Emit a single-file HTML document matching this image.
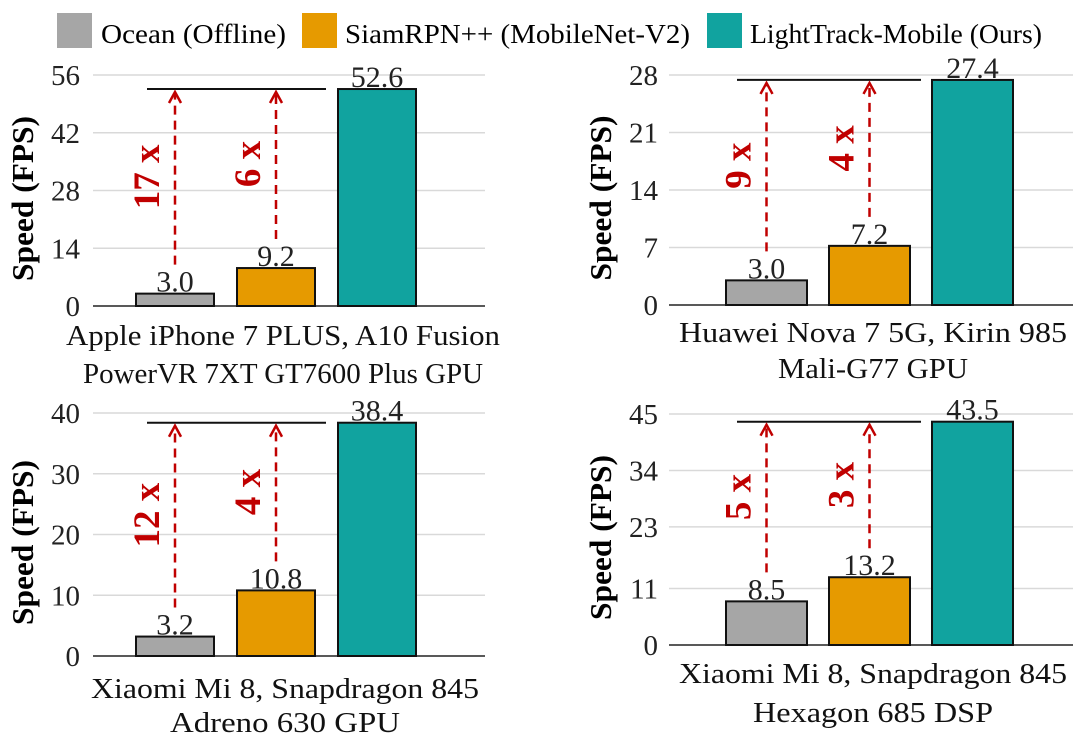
<!DOCTYPE html>
<html><head><meta charset="utf-8"><style>
html,body{margin:0;padding:0;background:#fff}
svg{display:block}
text{font-family:"Liberation Serif",serif}
</style></head><body>
<svg id="chart" width="1080" height="740" viewBox="0 0 1080 740" xmlns="http://www.w3.org/2000/svg">
<g>
<rect x="57" y="13" width="35" height="35" fill="#a6a6a6"/>
<text x="101" y="43" font-size="27" textLength="185" lengthAdjust="spacingAndGlyphs">Ocean (Offline)</text>
<rect x="302" y="13" width="35" height="35" fill="#e69a00"/>
<text x="345" y="43" font-size="27" textLength="345" lengthAdjust="spacingAndGlyphs">SiamRPN++ (MobileNet-V2)</text>
<rect x="707" y="13" width="35" height="35" fill="#11a39f"/>
<text x="750" y="43" font-size="27" textLength="292" lengthAdjust="spacingAndGlyphs">LightTrack-Mobile (Ours)</text>
</g>
</svg>
<script>
const devices = [["Apple iPhone 7 PLUS, A10 Fusion","PowerVR 7XT GT7600 Plus GPU"],["Huawei Nova 7 5G, Kirin 985","Mali-G77 GPU"],["Xiaomi Mi 8, Snapdragon 845","Adreno 630 GPU"],["Xiaomi Mi 8, Snapdragon 845","Hexagon 685 DSP"]];
const oceanFps = [3.0, 3.0, 3.2, 8.5];
const siamFps = [9.2, 7.2, 10.8, 13.2];
const lightFps = [52.6, 27.4, 38.4, 43.5];
const yMax = [56, 28, 40, 45];
const yTicks = [[0,14,28,42,56],[0,7,14,21,28],[0,10,20,30,40],[0,11,23,34,45]];
const speedupOcean = ["17 x","9 x","12 x","5 x"];
const speedupSiam = ["6 x","4 x","4 x","3 x"];

const layout = [
 {x0:93,x1:485,yTop:75,y0:306,bs:43,step:101,bw:78,tickR:80,titleX:22,lab:[335,373],labX:283,labW:[434,400]},
 {x0:669,x1:1073,yTop:75,y0:305,bs:57,step:103,bw:81,tickR:658,titleX:600,lab:[332,368],labX:873,labW:[388,190]},
 {x0:93,x1:485,yTop:413,y0:656,bs:43,step:101,bw:78,tickR:80,titleX:22,lab:[688,722],labX:285,labW:[388,230]},
 {x0:669,x1:1073,yTop:414,y0:645,bs:57,step:103,bw:81,tickR:658,titleX:600,lab:[673,712],labX:873,labW:[388,240]}
];
const colors = ["#a6a6a6","#e69a00","#11a39f"];
const NS="http://www.w3.org/2000/svg";
const svg=document.getElementById('chart');
function mk(tag,attrs,parent,txt){const e=document.createElementNS(NS,tag);for(const k in attrs)e.setAttribute(k,attrs[k]);if(txt!==undefined)e.textContent=txt;parent.appendChild(e);return e;}

layout.forEach((L,p)=>{
 const g=mk('g',{},svg);
 
 
 const y=v=>L.y0-(v/yMax[p])*(L.y0-L.yTop);
 yTicks[p].forEach(t=>{
  if(t>0){const gl=mk('line',{x1:L.x0,x2:L.x1,y1:y(t),y2:y(t),stroke:'#d9d9d9','stroke-width':'1.5'},g);
  
  }
  const tl=mk('text',{x:L.tickR,y:y(t)+10,'font-size':'29','text-anchor':'end',fill:'#222'},g,String(t));
  
  
 });
 const ax=mk('line',{x1:L.x0,x2:L.x1,y1:L.y0,y2:L.y0,stroke:'#222','stroke-width':'1.5'},g);
 
 
 const cy=(L.y0+L.yTop)/2+8;
 const tt=mk('text',{x:L.titleX,y:cy,'font-size':'31','font-weight':'bold','font-family':'"Liberation Sans",sans-serif','text-anchor':'middle',transform:`rotate(-90 ${L.titleX} ${cy})`,dy:'11',textLength:'165',lengthAdjust:'spacingAndGlyphs'},g,'Speed (FPS)');
 
 
 const vals=[oceanFps[p],siamFps[p],lightFps[p]];
 const names=['bar-ocean','bar-siamrpn','bar-lighttrack'];
 vals.forEach((v,i)=>{
  const bx=L.x0+L.bs+i*L.step;
  const r=mk('rect',{x:bx,y:y(v),width:L.bw,height:L.y0-y(v),fill:colors[i],stroke:'#111','stroke-width':'2'},g);
  
  
  const vl=mk('text',{x:bx+L.bw/2,y:y(v)-2,'font-size':'30','text-anchor':'middle',fill:'#222'},g,v.toFixed(1));
  
  
 });
 const top=y(lightFps[p]);
 const gx=L.x0+L.bs, ox=L.x0+L.bs+L.step;
 const rl=mk('line',{x1:gx+11,x2:ox+L.bw+11,y1:top,y2:top,stroke:'#111','stroke-width':'2'},g);
 
 
 [[oceanFps[p],gx,speedupOcean[p]],[siamFps[p],ox,speedupSiam[p]]].forEach(([v,bx,lab],i)=>{
  const ax2=bx+L.bw/2;
  const bot=y(v)-29;
  const ar=mk('line',{x1:ax2,x2:ax2,y1:bot,y2:top+4,stroke:'#c00000','stroke-width':'2.5','stroke-dasharray':'9,6'},g);
  
  
  const hd=mk('path',{d:`M${ax2-6},${top+14} L${ax2},${top+3} L${ax2+6},${top+14}`,fill:'none',stroke:'#c00000','stroke-width':'2.5'},g);
  
  
  const mx=ax2-27, my=(bot+top)/2;
  const sl=mk('text',{x:mx,y:my,'font-size':'37','font-weight':'bold','text-anchor':'middle',fill:'#c00000',dy:'11',transform:`rotate(-90 ${mx} ${my})`},g,lab);
  
  
 });
 devices[p].forEach((s,k)=>{
  const dl=mk('text',{x:L.labX,y:L.lab[k]+10,'font-size':'29','text-anchor':'middle',fill:'#111',textLength:L.labW[k],lengthAdjust:'spacingAndGlyphs'},g,s);
  
  
 });
});
</script>
</body></html>
